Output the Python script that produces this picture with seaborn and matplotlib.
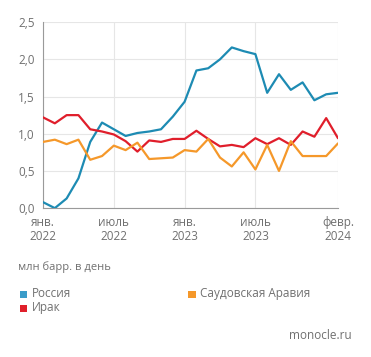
import matplotlib
matplotlib.use("Agg")
import matplotlib.pyplot as plt
import numpy as np
import pandas as pd
import seaborn as sns

# monthly, Jan 2022 .. Feb 2024
months = pd.date_range("2022-01-01", "2024-02-01", freq="MS")
russia = [0.08, 0.00, 0.13, 0.40, 0.89, 1.15, 1.06, 0.97, 1.01, 1.03, 1.06, 1.23, 1.43,
          1.85, 1.88, 2.00, 2.16, 2.11, 2.07, 1.55, 1.80, 1.59, 1.69, 1.45, 1.53, 1.55]
iraq = [1.22, 1.14, 1.25, 1.25, 1.06, 1.03, 0.99, 0.90, 0.76, 0.91, 0.89, 0.93, 0.93,
        1.04, 0.93, 0.83, 0.85, 0.82, 0.94, 0.86, 0.94, 0.85, 1.03, 0.96, 1.21, 0.94]
saudi = [0.89, 0.92, 0.86, 0.92, 0.65, 0.70, 0.84, 0.78, 0.88, 0.66, 0.67, 0.68, 0.78,
         0.76, 0.93, 0.68, 0.56, 0.75, 0.52, 0.85, 0.50, 0.90, 0.70, 0.70, 0.70, 0.87]
names = ["Россия", "Ирак", "Саудовская Аравия"]
colors = ["#1d8bb3", "#e01e2b", "#f5982a"]
tick_idx = [0, 6, 12, 18, 25]
tick_labels = ["янв.\n2022", "июль\n2022", "янв.\n2023", "июль\n2023", "февр.\n2024"]
y_ticks = [0.0, 0.5, 1.0, 1.5, 2.0, 2.5]

df = pd.DataFrame({
    "m": list(range(len(months))) * 3,
    "v": russia + iraq + saudi,
    "s": [names[0]] * len(months) + [names[1]] * len(months) + [names[2]] * len(months),
})

sns.set_theme(style="white")
plt.rcParams["font.family"] = ["Open Sans", "DejaVu Sans"]
grey = "#707070"

fig = plt.figure(figsize=(3.71, 3.57), dpi=100)
ax = fig.add_axes([0.116, 0.417, 0.795, 0.521])
sns.lineplot(data=df, x="m", y="v", hue="s", palette=dict(zip(names, colors)),
             linewidth=1.6, ax=ax, legend=False, zorder=3)

ax.set_xlim(0, 25)
ax.set_ylim(0, 2.5)
ax.set_yticks(y_ticks)
ax.set_yticklabels([f"{t:.1f}".replace(".", ",") for t in y_ticks], color=grey, fontsize=8.5)
ax.set_xticks(tick_idx)
ax.set_xticklabels(tick_labels, color=grey, fontsize=8.5, linespacing=1.1)
ax.set_xlabel("")
ax.set_ylabel("")
ax.grid(True, color="#e6e6e6", linewidth=0.8)
for s in ["top", "right"]:
    ax.spines[s].set_visible(False)
ax.spines["left"].set_color("#9a9a9a")
ax.spines["bottom"].set_color("#9a9a9a")
ax.spines["left"].set_linewidth(0.8)
ax.spines["bottom"].set_linewidth(0.8)
ax.tick_params(axis="x", length=4, color="#9a9a9a", width=0.8, pad=2)
ax.tick_params(axis="y", length=4, color="#e6e6e6", width=0.8, pad=2)
ax.yaxis.get_major_ticks()[0].tick1line.set_color("#9a9a9a")
for t in ax.xaxis.get_major_ticks()[1:]:
    t.tick1line.set_visible(False)

fig.text(0.048, 0.245, "млн барр. в день", color=grey, fontsize=8)
legend_pos = [(0.055, 0.178), (0.055, 0.138), (0.508, 0.178)]
legend_cols = ["#3a9cc9", "#e0202b", "#f5982a"]
for (x, y), n, c in zip(legend_pos, names, legend_cols):
    fig.patches.append(plt.Rectangle((x, y - 0.012), 0.019, 0.02, transform=fig.transFigure,
                                     facecolor=c, edgecolor="none", figure=fig))
    fig.text(x + 0.032, y, n, color=grey, fontsize=8.5, va="center")
fig.text(0.948, 0.06, "monocle.ru", color=grey, fontsize=8.5, ha="right", va="center")

fig.savefig("out.png", dpi=100, facecolor="white")
